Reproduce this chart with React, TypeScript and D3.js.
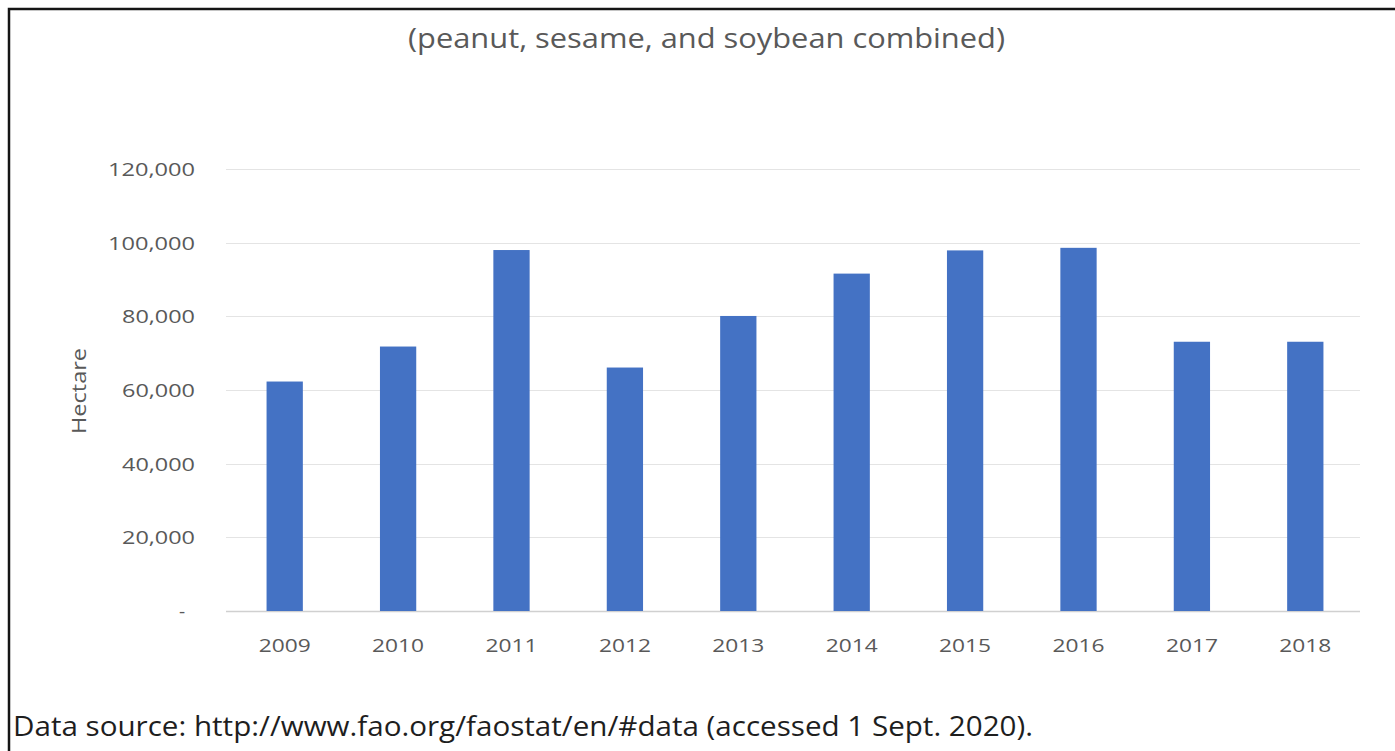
import { useEffect, useRef } from 'react';
import * as d3 from 'd3';

const years = ['2009', '2010', '2011', '2012', '2013', '2014', '2015', '2016', '2017', '2018'];
const hectares = [62300, 71800, 98000, 66100, 80100, 91600, 97900, 98600, 73100, 73100];
const yTicks = [0, 20000, 40000, 60000, 80000, 100000, 120000];

const title = '(peanut, sesame, and soybean combined)';
const yTitle = 'Hectare';
const source = 'Data source: http://www.fao.org/faostat/en/#data (accessed 1 Sept. 2020).';

export default function App() {
  const svgRef = useRef<SVGSVGElement>(null);
  const width = 1395;
  const height = 751;

  useEffect(() => {
    if (!svgRef.current) return;
    const svg = d3.select(svgRef.current);
    svg.selectAll('*').remove();

    const font = "'Open Sans', sans-serif";
    const grey = '#595959';

    svg.append('rect').attr('width', width).attr('height', height).attr('fill', '#fff');

    // frame (left + top edge only)
    svg.append('path')
      .attr('d', `M9,${height} V9 H${width}`)
      .attr('fill', 'none')
      .attr('stroke', '#151515')
      .attr('stroke-width', 2.5);

    const x = d3.scaleBand<string>()
      .domain(years)
      .range([228, 1362])
      .paddingInner(0.68)
      .paddingOuter(0.34);

    const y = d3.scaleLinear().domain([0, 120000]).range([611, 169]);

    // gridlines
    svg.append('g')
      .selectAll('line')
      .data(yTicks)
      .enter().append('line')
      .attr('x1', 226)
      .attr('x2', 1360)
      .attr('y1', d => Math.round(y(d)) + 0.5)
      .attr('y2', d => Math.round(y(d)) + 0.5)
      .attr('stroke', d => d === 0 ? '#d0d0d0' : '#e4e4e4')
      .attr('stroke-width', d => d === 0 ? 1.5 : 1);

    // y tick labels
    svg.append('g')
      .selectAll('text')
      .data(yTicks)
      .enter().append('text')
      .attr('x', d => d === 0 ? 185 : 195)
      .attr('y', d => y(d))
      .attr('dy', '0.36em')
      .attr('text-anchor', 'end')
      .attr('fill', grey)
      .style('font-family', font)
      .style('font-size', '19px')
      .attr('textLength', d => d === 0 ? null : (d >= 100000 ? 87 : 73))
      .attr('lengthAdjust', 'spacingAndGlyphs')
      .text(d => d === 0 ? '-' : d3.format(',')(d));

    // bars
    svg.append('g')
      .selectAll('rect')
      .data(hectares)
      .enter().append('rect')
      .attr('x', (_, i) => x(years[i])!)
      .attr('width', x.bandwidth())
      .attr('y', d => y(d))
      .attr('height', d => y(0) - y(d))
      .attr('fill', '#4472c4');

    // x labels
    svg.append('g')
      .selectAll('text')
      .data(years)
      .enter().append('text')
      .attr('x', d => x(d)! + x.bandwidth() / 2)
      .attr('y', 652)
      .attr('text-anchor', 'middle')
      .attr('fill', grey)
      .style('font-family', font)
      .style('font-size', '19px')
      .attr('textLength', 52)
      .attr('lengthAdjust', 'spacingAndGlyphs')
      .text(d => d);

    // y axis title
    svg.append('text')
      .attr('transform', 'translate(86,391) rotate(-90)')
      .attr('text-anchor', 'middle')
      .attr('fill', grey)
      .style('font-family', font)
      .style('font-size', '20px')
      .attr('textLength', 86)
      .attr('lengthAdjust', 'spacingAndGlyphs')
      .text(yTitle);

    // title
    svg.append('text')
      .attr('x', 408)
      .attr('y', 48)
      .attr('fill', grey)
      .style('font-family', font)
      .style('font-size', '27px')
      .attr('textLength', 597)
      .attr('lengthAdjust', 'spacingAndGlyphs')
      .text(title);

    // source note
    svg.append('text')
      .attr('x', 13)
      .attr('y', 736)
      .attr('fill', '#1e1e1e')
      .style('font-family', font)
      .style('font-size', '27px')
      .attr('textLength', 1020)
      .attr('lengthAdjust', 'spacingAndGlyphs')
      .text(source);
  }, []);

  return (
    <div style={{ position: 'fixed', left: 0, top: 0 }}>
      <svg ref={svgRef} width={width} height={height} style={{ display: 'block' }} />
    </div>
  );
}
